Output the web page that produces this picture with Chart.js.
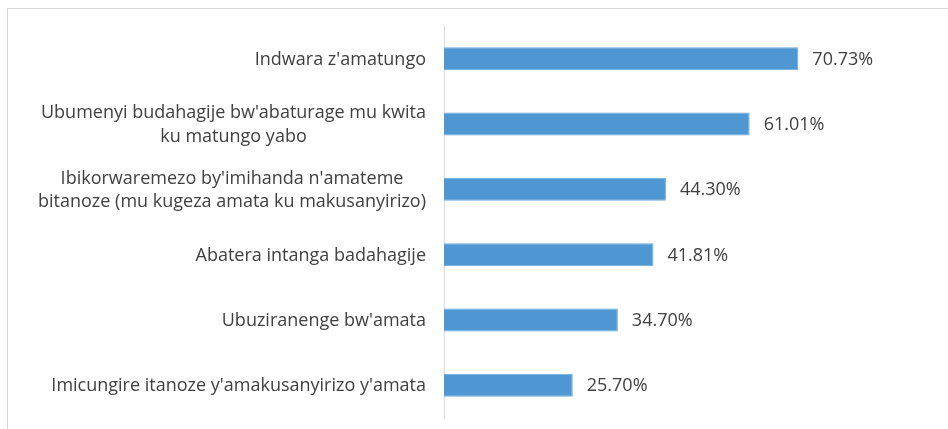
<!DOCTYPE html>
<html>
<head>
<meta charset="utf-8">
<script src="https://cdn.jsdelivr.net/npm/chart.js@4"></script>
<style>
  html, body { margin: 0; padding: 0; background: #fff; }
  #frame { position: absolute; left: 7px; top: 8px; width: 960px; height: 440px; border: 1px solid #d9d9d9; }
  #wrap { position: absolute; left: 0; top: 0; width: 948px; height: 429px; }
</style>
</head>
<body>
<div id="frame"></div>
<div id="wrap"><canvas id="grafico"></canvas></div>
<script>
// Dados do gráfico
const categorias = [
    "Indwara z'amatungo",
    ["Ubumenyi budahagije bw'abaturage mu kwita", "ku matungo yabo"],
    ["Ibikorwaremezo by'imihanda n'amateme", "bitanoze (mu kugeza amata ku makusanyirizo)"],
    "Abatera intanga badahagije",
    "Ubuziranenge bw'amata",
    "Imicungire itanoze y'amakusanyirizo y'amata"
];
const valores = [70.73, 61.01, 44.30, 41.81, 34.70, 25.70];
const rotulos = ['70.73%', '61.01%', '44.30%', '41.81%', '34.70%', '25.70%'];

const corTexto = '#404040';
const fonte = 'Open Sans, sans-serif';
const tamanhoFonte = 18;

// Plugin: valores no fim das barras
const rotulosBarras = {
    id: 'rotulosBarras',
    afterDatasetsDraw(chart) {
        const c = chart.ctx;
        const meta = chart.getDatasetMeta(0);
        c.save();
        c.fillStyle = corTexto;
        c.font = tamanhoFonte + 'px ' + fonte;
        c.textAlign = 'left';
        c.textBaseline = 'middle';
        meta.data.forEach((bar, i) => {
            c.fillText(rotulos[i], bar.x + 14, bar.y + 1);
        });
        c.restore();
    }
};

// Plugin: categorias como no Excel (bloco alinhado à direita, linhas centradas)
const rotulosCategorias = {
    id: 'rotulosCategorias',
    afterDraw(chart) {
        const c = chart.ctx;
        const escala = chart.scales.y;
        const direita = escala.right - 18;
        const altLinha = 23.5;
        c.save();
        c.fillStyle = corTexto;
        c.font = tamanhoFonte + 'px ' + fonte;
        c.textAlign = 'center';
        c.textBaseline = 'middle';
        categorias.forEach((cat, i) => {
            const linhas = Array.isArray(cat) ? cat : [cat];
            const larg = Math.max(...linhas.map(l => c.measureText(l).width));
            const cx = direita - larg / 2;
            const y0 = escala.getPixelForValue(i) - (linhas.length - 1) * altLinha / 2;
            linhas.forEach((l, k) => c.fillText(l, cx, y0 + k * altLinha + 1));
        });
        c.restore();
    }
};

const ctx = document.getElementById('grafico').getContext('2d');
const grafico = new Chart(ctx, {
    type: 'bar',
    data: {
        labels: categorias,
        datasets: [{
            data: valores,
            backgroundColor: '#4e97d2',
            borderColor: '#6aaae0',
            borderWidth: 1,
            barPercentage: 0.353,
            categoryPercentage: 1.0
        }]
    },
    options: {
        indexAxis: 'y',
        responsive: true,
        maintainAspectRatio: false,
        animation: false,
        layout: { padding: { top: 26, bottom: 11, left: 0, right: 3 } },
        plugins: {
            legend: { display: false },
            tooltip: { enabled: false }
        },
        scales: {
            x: {
                display: false,
                min: 0,
                max: 100
            },
            y: {
                afterFit(scale) {
                    scale.width = 444;
                    scale.paddingTop = 0;
                    scale.paddingBottom = 0;
                },
                grid: { display: false, drawTicks: false },
                border: { display: true, color: '#d9d9d9', width: 1 },
                ticks: { display: false }
            }
        }
    },
    plugins: [rotulosBarras, rotulosCategorias]
});
</script>
</body>
</html>
